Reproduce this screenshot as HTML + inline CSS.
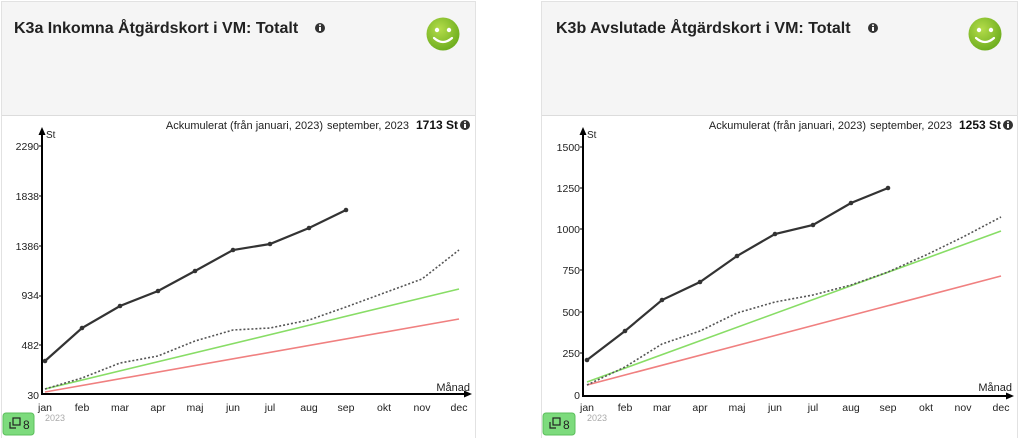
<!DOCTYPE html>
<html><head><meta charset="utf-8"><style>
html,body{margin:0;padding:0;background:#fff;width:1024px;height:438px;overflow:hidden}
svg{display:block;font-family:"Liberation Sans",Arial,sans-serif}
</style></head><body>
<svg width="1024" height="438" viewBox="0 0 1024 438" xmlns="http://www.w3.org/2000/svg">
<defs>
<radialGradient id="sg" cx="0.4" cy="0.35" r="0.7"><stop offset="0" stop-color="#b4dc4a"/><stop offset="1" stop-color="#6aab1c"/></radialGradient>
</defs>
<!-- LEFT PANEL -->
<rect x="1.5" y="1.5" width="474" height="438" fill="#fff" stroke="#e2e2e2"/>
<rect x="2" y="2" width="473" height="113" fill="#f5f5f5"/>
<line x1="2" y1="115.5" x2="475" y2="115.5" stroke="#dcdcdc"/>
<text x="14" y="33" font-size="16" font-weight="bold" fill="#222">K3a Inkomna Åtgärdskort i VM: Totalt</text>
<circle cx="320" cy="28" r="5" fill="#333"/><rect x="319" y="27" width="2" height="4" fill="#fff"/><circle cx="320" cy="25.3" r="1" fill="#fff"/>
<circle cx="443" cy="34" r="16.5" fill="url(#sg)"/>
<circle cx="437" cy="30" r="2.2" fill="#fff"/><circle cx="449" cy="30" r="2.2" fill="#fff"/>
<path d="M434 38 Q443 46 452 38" stroke="#fff" stroke-width="2.2" fill="none" stroke-linecap="round"/>
<text x="323" y="129" font-size="11" fill="#222" text-anchor="end">Ackumulerat (från januari, 2023)</text>
<text x="409" y="129" font-size="11" fill="#222" text-anchor="end">september, 2023</text>
<text x="458" y="129" font-size="12" font-weight="bold" fill="#111" text-anchor="end">1713 St</text>
<circle cx="465" cy="125" r="5" fill="#333"/><rect x="464" y="124" width="2" height="4" fill="#fff"/><circle cx="465" cy="122.3" r="1" fill="#fff"/>
<!-- axes -->
<line x1="42" y1="134" x2="42" y2="394" stroke="#000" stroke-width="2"/>
<path d="M38.5 135 L42 127 L45.5 135Z" fill="#000"/>
<line x1="41" y1="394" x2="465" y2="394" stroke="#000" stroke-width="2"/>
<path d="M464 390.5 L472 394 L464 397.5Z" fill="#000"/>
<text x="46" y="138" font-size="10" fill="#222">St</text>
<text x="470" y="391" font-size="11" fill="#222" text-anchor="end">Månad</text>
<g font-size="10.5" fill="#222" text-anchor="end">
<text x="39" y="150">2290</text><text x="39" y="200">1838</text><text x="39" y="250">1386</text><text x="39" y="299">934</text><text x="39" y="349">482</text><text x="39" y="399">30</text>
</g>
<g stroke="#000"><line x1="39" y1="146" x2="42" y2="146"/><line x1="39" y1="196" x2="42" y2="196"/><line x1="39" y1="246" x2="42" y2="246"/><line x1="39" y1="296" x2="42" y2="296"/><line x1="39" y1="345" x2="42" y2="345"/></g>
<g font-size="10.5" fill="#222" text-anchor="middle">
<text x="45" y="411">jan</text><text x="82" y="411">feb</text><text x="120" y="411">mar</text><text x="158" y="411">apr</text><text x="195" y="411">maj</text><text x="233" y="411">jun</text><text x="270" y="411">jul</text><text x="309" y="411">aug</text><text x="346" y="411">sep</text><text x="384" y="411">okt</text><text x="422" y="411">nov</text><text x="459" y="411">dec</text>
</g>
<text x="45" y="421" font-size="9" fill="#aaa">2023</text>
<polyline points="45,392 459,319" stroke="#f08080" stroke-width="1.6" fill="none"/>
<polyline points="45,389 459,289" stroke="#88dd66" stroke-width="1.6" fill="none"/>
<polyline points="45,389 82,378 120,363 158,356 195,341 233,330 270,328 309,320 346,307 384,293 422,279 459,250" stroke="#555" stroke-width="1.6" stroke-dasharray="2,2" fill="none"/>
<polyline points="45,361 82,328 120,306 158,291 195,271 233,250 270,244 309,228 346,210" stroke="#333" stroke-width="2.2" fill="none"/>
<g fill="#333"><circle cx="45" cy="361" r="2.3"/><circle cx="82" cy="328" r="2.3"/><circle cx="120" cy="306" r="2.3"/><circle cx="158" cy="291" r="2.3"/><circle cx="195" cy="271" r="2.3"/><circle cx="233" cy="250" r="2.3"/><circle cx="270" cy="244" r="2.3"/><circle cx="309" cy="228" r="2.3"/><circle cx="346" cy="210" r="2.3"/></g>
<rect x="3" y="413" width="31" height="22" rx="3" fill="#7ddb7d" stroke="#5cbf5c"/>
<rect x="13" y="418" width="7" height="7" fill="none" stroke="#222" stroke-width="1.2"/><path d="M10 422 V428 H16" fill="none" stroke="#222" stroke-width="1.2"/>
<text x="23" y="429" font-size="12" fill="#222">8</text>

<!-- RIGHT PANEL -->
<rect x="541.5" y="1.5" width="476" height="438" fill="#fff" stroke="#e2e2e2"/>
<rect x="542" y="2" width="475" height="113" fill="#f5f5f5"/>
<line x1="542" y1="115.5" x2="1017" y2="115.5" stroke="#dcdcdc"/>
<text x="556" y="33" font-size="16" font-weight="bold" fill="#222">K3b Avslutade Åtgärdskort i VM: Totalt</text>
<circle cx="873" cy="28" r="5" fill="#333"/><rect x="872" y="27" width="2" height="4" fill="#fff"/><circle cx="873" cy="25.3" r="1" fill="#fff"/>
<circle cx="985" cy="34" r="16.5" fill="url(#sg)"/>
<circle cx="979" cy="30" r="2.2" fill="#fff"/><circle cx="991" cy="30" r="2.2" fill="#fff"/>
<path d="M976 38 Q985 46 994 38" stroke="#fff" stroke-width="2.2" fill="none" stroke-linecap="round"/>
<text x="866" y="129" font-size="11" fill="#222" text-anchor="end">Ackumulerat (från januari, 2023)</text>
<text x="952" y="129" font-size="11" fill="#222" text-anchor="end">september, 2023</text>
<text x="1001" y="129" font-size="12" font-weight="bold" fill="#111" text-anchor="end">1253 St</text>
<circle cx="1008" cy="125" r="5" fill="#333"/><rect x="1007" y="124" width="2" height="4" fill="#fff"/><circle cx="1008" cy="122.3" r="1" fill="#fff"/>
<line x1="583" y1="134" x2="583" y2="396" stroke="#000" stroke-width="2"/>
<path d="M579.5 135 L583 127 L586.5 135Z" fill="#000"/>
<line x1="582" y1="396" x2="1007" y2="396" stroke="#000" stroke-width="2"/>
<path d="M1006 392.5 L1014 396 L1006 399.5Z" fill="#000"/>
<text x="587" y="138" font-size="10" fill="#222">St</text>
<text x="1012" y="391" font-size="11" fill="#222" text-anchor="end">Månad</text>
<g font-size="10.5" fill="#222" text-anchor="end">
<text x="580" y="151">1500</text><text x="580" y="192">1250</text><text x="580" y="233">1000</text><text x="580" y="274">750</text><text x="580" y="316">500</text><text x="580" y="357">250</text><text x="580" y="399">0</text>
</g>
<g stroke="#000"><line x1="580" y1="147" x2="583" y2="147"/><line x1="580" y1="188" x2="583" y2="188"/><line x1="580" y1="229" x2="583" y2="229"/><line x1="580" y1="270" x2="583" y2="270"/><line x1="580" y1="312" x2="583" y2="312"/><line x1="580" y1="353" x2="583" y2="353"/></g>
<g font-size="10.5" fill="#222" text-anchor="middle">
<text x="587" y="411">jan</text><text x="625" y="411">feb</text><text x="662" y="411">mar</text><text x="700" y="411">apr</text><text x="737" y="411">maj</text><text x="775" y="411">jun</text><text x="813" y="411">jul</text><text x="851" y="411">aug</text><text x="888" y="411">sep</text><text x="926" y="411">okt</text><text x="963" y="411">nov</text><text x="1001" y="411">dec</text>
</g>
<text x="587" y="421" font-size="9" fill="#aaa">2023</text>
<polyline points="587,385 1001,276" stroke="#f08080" stroke-width="1.6" fill="none"/>
<polyline points="587,382 1001,231" stroke="#88dd66" stroke-width="1.6" fill="none"/>
<polyline points="587,385 625,367 662,344 700,331 737,313 775,302 813,295 851,285 888,272 926,255 963,237 1001,217" stroke="#555" stroke-width="1.6" stroke-dasharray="2,2" fill="none"/>
<polyline points="587,360 625,331 662,300 700,282 737,256 775,234 813,225 851,203 888,188" stroke="#333" stroke-width="2.2" fill="none"/>
<g fill="#333"><circle cx="587" cy="360" r="2.3"/><circle cx="625" cy="331" r="2.3"/><circle cx="662" cy="300" r="2.3"/><circle cx="700" cy="282" r="2.3"/><circle cx="737" cy="256" r="2.3"/><circle cx="775" cy="234" r="2.3"/><circle cx="813" cy="225" r="2.3"/><circle cx="851" cy="203" r="2.3"/><circle cx="888" cy="188" r="2.3"/></g>
<rect x="543" y="413" width="32" height="22" rx="3" fill="#7ddb7d" stroke="#5cbf5c"/>
<rect x="553" y="418" width="7" height="7" fill="none" stroke="#222" stroke-width="1.2"/><path d="M550 422 V428 H556" fill="none" stroke="#222" stroke-width="1.2"/>
<text x="563" y="429" font-size="12" fill="#222">8</text>
</svg>
</body></html>
